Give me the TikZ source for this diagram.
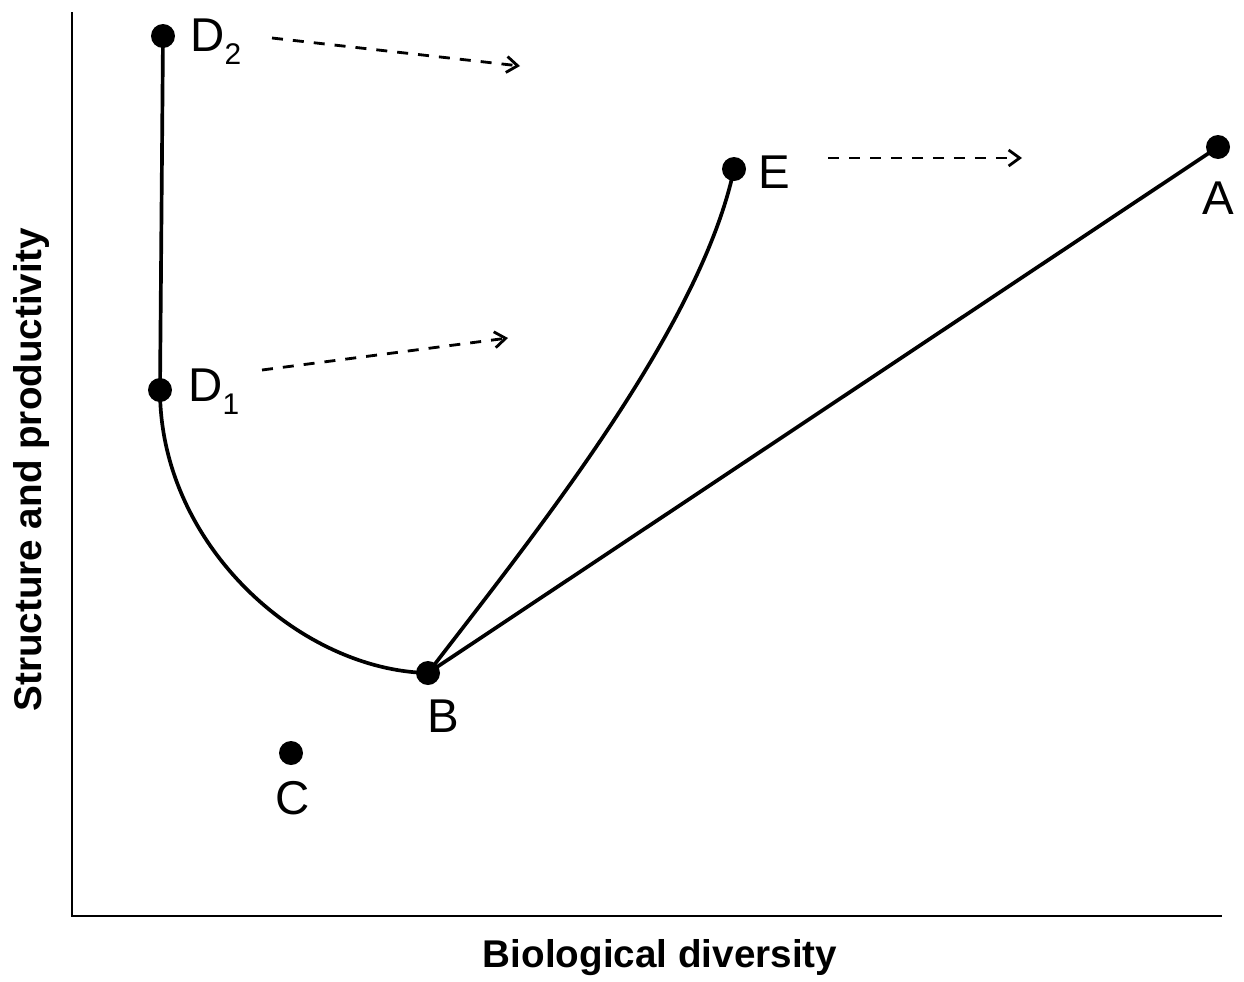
\documentclass[tikz,border=0pt]{standalone}
\usepackage{fontspec}
\setmainfont{Liberation Sans}
\usetikzlibrary{arrows.meta}
\newcommand{\lowsub}[1]{\raisebox{-0.28em}{\fontsize{17}{17}\selectfont #1}}
\begin{document}
\begin{tikzpicture}[x=0.02cm,y=-0.02cm,
  dot/.style={circle,fill=black,inner sep=0pt,minimum size=0.48cm},
  lbl/.style={font=\fontsize{27}{30}\selectfont,inner sep=0pt},
  axlbl/.style={font=\fontsize{22}{26}\selectfont\bfseries,inner sep=0pt},
  curve/.style={line width=2.1pt},
  move/.style={line width=1.6pt,dash pattern=on 0.22cm off 0.2cm,-{Straight Barb[length=0.22cm,width=0.32cm,line width=1.6pt]}}]
\useasboundingbox (0,0) rectangle (1244,981);
% axes
\coordinate (O) at (72,916);
\coordinate (Ytop) at (72,12);
\coordinate (Xend) at (1222,916);
\draw[line width=1.5pt] (Ytop) -- (O) -- (Xend);
\node[axlbl,rotate=90] (ylab) at (32,470) {Structure and productivity};
\node[axlbl] (xlab) at (660,958) {Biological diversity};
% points
\node[dot] (D2) at (163,36) {};
\node[dot] (D1) at (160,390) {};
\node[dot] (B) at (428,673) {};
\node[dot] (C) at (291,753) {};
\node[dot] (E) at (734,169) {};
\node[dot] (A) at (1218,147) {};
% labels
\node[lbl,anchor=west] (lD2) at (190,42) {D\lowsub{2}};
\node[lbl,anchor=west] (lD1) at (188,392) {D\lowsub{1}};
\node[lbl,anchor=west] (lE) at (758,172) {E};
\node[lbl] (lA) at (1218,198) {A};
\node[lbl] (lB) at (443,716) {B};
\node[lbl] (lC) at (293,798) {C};
% connectors
\draw[curve] (D2.center) -- (D1.center);
\draw[curve] (D1.center) .. controls (160,545) and (300,670) .. (B.center);
\draw[curve] (B.center) .. controls (530,540) and (700,330) .. (E.center);
\draw[curve] (B.center) -- (A.center);
% dashed arrows
\coordinate (a1s) at (272,38);
\coordinate (a1e) at (520,66);
\coordinate (a2s) at (262,370);
\coordinate (a2e) at (508,338);
\coordinate (a3s) at (828,158);
\coordinate (a3e) at (1022,158);
\draw[move] (a1s) -- (a1e);
\draw[move] (a2s) -- (a2e);
\draw[move] (a3s) -- (a3e);
\end{tikzpicture}
\end{document}
